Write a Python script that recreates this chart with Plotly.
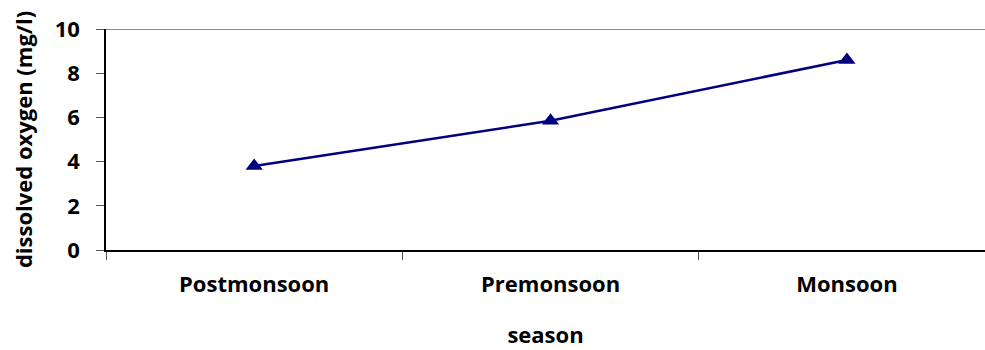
import plotly.graph_objects as go

# Seasonal dissolved oxygen readings
seasons = ["Postmonsoon", "Premonsoon", "Monsoon"]
dissolved_oxygen = [3.8, 5.85, 8.6]
y_ticks = [0, 2, 4, 6, 8, 10]

FONT = "Open Sans"
SIZE = 22

fig = go.Figure()
fig.add_trace(go.Scatter(
    x=seasons,
    y=dissolved_oxygen,
    mode="lines+markers",
    line=dict(color="#000080", width=2.5),
    marker=dict(symbol="triangle-up", size=15, color="#000080"),
    showlegend=False,
))

# grey border line along the top of the plot area
fig.add_shape(type="line", xref="paper", x0=0, x1=1, yref="y", y0=10, y1=10,
              line=dict(color="#8c8c8c", width=2), layer="below")

fig.update_layout(
    width=985, height=350,
    margin=dict(l=106, r=0, t=29, b=100),
    paper_bgcolor="white", plot_bgcolor="white",
    font=dict(family=FONT, color="black"),
    xaxis=dict(
        type="category",
        range=[-0.5, 2.466],
        tickson="boundaries",
        ticks="outside", ticklen=8, tickcolor="#555555", tickwidth=1,
        showline=True, linecolor="black", linewidth=1.5,
        showgrid=False, zeroline=False,
        tickfont=dict(family=FONT, size=SIZE, color="black", weight="bold"),
        ticklabelstandoff=14,
        title=dict(text="season", standoff=30,
                   font=dict(family=FONT, size=SIZE, color="black", weight="bold")),
    ),
    yaxis=dict(
        range=[0, 10],
        tickvals=y_ticks,
        ticks="outside", ticklen=8, tickcolor="#555555", tickwidth=1,
        showline=True, linecolor="black", linewidth=1.5,
        showgrid=False, zeroline=False,
        tickfont=dict(family=FONT, size=SIZE, color="black", weight="bold"),
        ticklabelstandoff=12,
        title=dict(text="dissolved oxygen (mg/l)", standoff=16,
                   font=dict(family=FONT, size=SIZE, color="black", weight="bold")),
    ),
)

fig.write_html("out.html")
